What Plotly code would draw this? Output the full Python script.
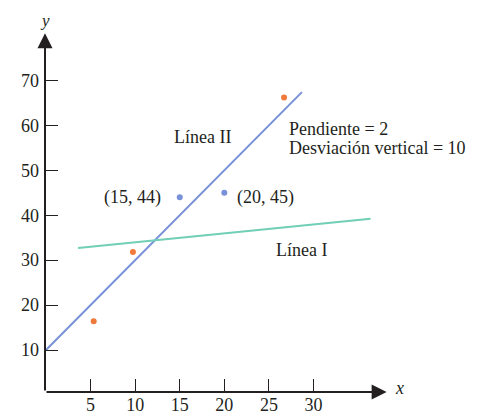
import plotly.graph_objects as go

# --- data ---
x_ticks = [5, 10, 15, 20, 25, 30]
y_ticks = [10, 20, 30, 40, 50, 60, 70]

line2_x = [0, 28.7]
line2_y = [10, 67.4]

line1_x = [3.6, 36.4]
line1_y = [32.7, 39.2]

orange_x = [5.35, 9.75, 26.7]
orange_y = [16.4, 31.8, 66.2]

blue_x = [15, 20]
blue_y = [44, 45]
blue_labels = ["(15, 44)", "(20, 45)"]

FONT = "Liberation Serif"
TXT = "#231f20"
BLUE = "#7891d8"
TEAL = "#70cfb6"
ORANGE = "#ef7a3b"

X0, Y0 = -0.11, 0.667

fig = go.Figure()
fig.add_trace(go.Scatter(x=line2_x, y=line2_y, mode="lines",
                         line=dict(color=BLUE, width=2), showlegend=False, hoverinfo="skip"))
fig.add_trace(go.Scatter(x=line1_x, y=line1_y, mode="lines",
                         line=dict(color=TEAL, width=2), showlegend=False, hoverinfo="skip"))
fig.add_trace(go.Scatter(x=orange_x, y=orange_y, mode="markers",
                         marker=dict(color=ORANGE, size=6), showlegend=False))
fig.add_trace(go.Scatter(x=blue_x, y=blue_y, mode="markers",
                         marker=dict(color=BLUE, size=6), showlegend=False))

ann = []
# axes with arrows
ann.append(dict(x=X0, y=80.5, ax=X0, ay=Y0, xref="x", yref="y", axref="x", ayref="y",
                text="", showarrow=True, arrowhead=2, arrowsize=1.5, arrowwidth=2,
                arrowcolor=TXT, standoff=0, startstandoff=0))
ann.append(dict(x=38.2, y=Y0, ax=X0, ay=Y0, xref="x", yref="y", axref="x", ayref="y",
                text="", showarrow=True, arrowhead=2, arrowsize=1.5, arrowwidth=2,
                arrowcolor=TXT, standoff=0, startstandoff=0))
# axis letters
ann.append(dict(x=X0, y=1, xref="x", yref="paper", yanchor="top", yshift=3,
                text="<i>y</i>", showarrow=False, borderpad=0,
                font=dict(family=FONT, size=17, color=TXT)))
ann.append(dict(x=39.7, y=1.5, xref="x", yref="y", text="<i>x</i>", showarrow=False,
                font=dict(family=FONT, size=18, color=TXT)))
# labels
ann.append(dict(x=17.6, y=57.4, xref="x", yref="y", text="Línea II", showarrow=False,
                font=dict(family=FONT, size=18, color=TXT)))
ann.append(dict(x=28.6, y=32.3, xref="x", yref="y", text="Línea I", showarrow=False,
                font=dict(family=FONT, size=18, color=TXT)))
ann.append(dict(x=27.0, y=(395 - 129.3) / 4.495, xref="x", yref="y", text="Pendiente = 2",
                showarrow=False, xanchor="left", font=dict(family=FONT, size=18, color=TXT)))
ann.append(dict(x=27.0, y=(395 - 148.3) / 4.495, xref="x", yref="y",
                text="Desviación vertical = 10", showarrow=False, xanchor="left",
                font=dict(family=FONT, size=18, color=TXT)))
ann.append(dict(x=13.1, y=44, xref="x", yref="y", text=blue_labels[0], showarrow=False,
                xanchor="right", font=dict(family=FONT, size=18, color=TXT)))
ann.append(dict(x=21.2, y=44, xref="x", yref="y", text=blue_labels[1], showarrow=False,
                xanchor="left", font=dict(family=FONT, size=18, color=TXT)))

# page body has an 8px margin: figure is placed at (8, 8)
fig.update_layout(
    width=472, height=409,
    margin=dict(l=37, r=6, t=5, b=25, autoexpand=False),
    paper_bgcolor="white", plot_bgcolor="white",
    annotations=ann,
    showlegend=False,
    xaxis=dict(range=[X0, 48.0], tickvals=x_ticks, ticktext=[str(v) for v in x_ticks],
               ticks="inside", ticklen=13, tickwidth=1.3, tickcolor=TXT,
               showgrid=False, zeroline=False, showline=False, automargin=False,
               tickfont=dict(family=FONT, size=18, color=TXT)),
    yaxis=dict(range=[Y0, 85.0], tickvals=y_ticks, ticktext=[str(v) for v in y_ticks],
               ticks="inside", ticklen=13, tickwidth=1.3, tickcolor=TXT,
               ticklabelstandoff=5,
               showgrid=False, zeroline=False, showline=False, automargin=False,
               tickfont=dict(family=FONT, size=18, color=TXT)),
)

fig.write_html("out.html")
